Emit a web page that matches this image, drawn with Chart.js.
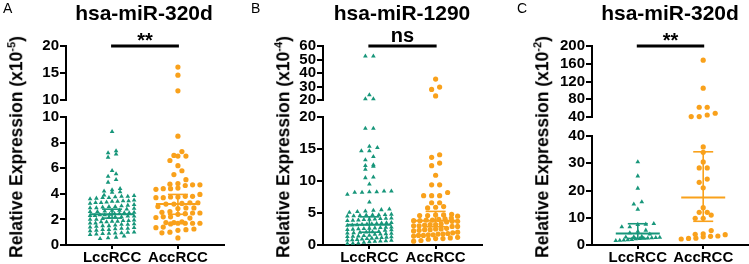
<!DOCTYPE html>
<html><head><meta charset="utf-8">
<script src="https://cdn.jsdelivr.net/npm/chart.js@4.4.1/dist/chart.umd.min.js"></script>
<style>
html,body{margin:0;padding:0;background:#fff;}
body{position:relative;width:749px;height:264px;overflow:hidden;font-family:"Liberation Sans",Arial,sans-serif;color:#000;}
canvas{position:absolute;}
.lbl{position:absolute;white-space:nowrap;line-height:1;transform:translate(-50%,-50%);}
.title{font-size:21px;font-weight:bold;}
.letter{position:absolute;font-size:14px;line-height:1;white-space:nowrap;}
.ytitle{font-size:17.5px;font-weight:bold;transform:translate(-50%,-50%) rotate(-90deg);}
.ytitle sup{font-size:11px;vertical-align:0.6em;line-height:0;}
</style></head><body>
<script>
// ---------- data ----------
const groups = ['LccRCC', 'AccRCC'];
const titles = ['hsa-miR-320d', 'hsa-miR-1290', 'hsa-miR-320d'];
const panelLetters = ['A', 'B', 'C'];
const exponents = ['-5', '-4', '-2'];
const sigLabels = ['**', 'ns', '**'];

const aTopTicks = [10, 15, 20];
const aBotTicks = [0, 2, 4, 6, 8, 10];
const bTopTicks = [20, 30, 40, 50, 60];
const bBotTicks = [0, 5, 10, 15, 20];
const cTopTicks = [40, 80, 120, 160, 200];
const cBotTicks = [0, 10, 20, 30, 40];

const aLcc = [8.85, 7.35, 7.2, 7.1, 6.85, 5.8, 5.55, 5.35, 5.1, 4.9, 4.4, 4.3, 4.2, 4.15, 4.1,
  3.9, 3.85, 3.8, 3.8, 3.75, 3.7, 3.7, 3.65, 3.6,
  3.5, 3.45, 3.45, 3.4, 3.4, 3.35, 3.3, 3.3, 3.25,
  3.15, 3.1, 3.05, 3.0, 3.0, 2.95, 2.9, 2.9, 2.85, 2.8,
  2.7, 2.7, 2.65, 2.6, 2.6, 2.55, 2.5, 2.5, 2.45, 2.45,
  2.4, 2.35, 2.35, 2.3, 2.3, 2.25, 2.25, 2.2, 2.2, 2.15,
  2.05, 2.0, 2.0, 1.95, 1.9, 1.9, 1.85, 1.85, 1.8, 1.8,
  1.7, 1.7, 1.65, 1.6, 1.6, 1.55, 1.5, 1.5, 1.45,
  1.4, 1.35, 1.3, 1.3, 1.25, 1.2, 1.2, 1.15, 1.1,
  1.0, 0.98, 0.95, 0.92, 0.9, 0.88, 0.85, 0.8,
  0.7, 0.6, 0.55, 0.5];
const aAcc = [16.1, 14.6, 11.7,
  8.5, 7.3, 7.0, 6.95, 6.95, 6.6, 6.2, 5.8, 5.5, 5.1,
  4.8, 4.75, 4.7, 4.7, 4.65, 4.45, 4.4, 4.4, 4.35,
  3.95, 3.8, 3.8, 3.75, 3.75, 3.7, 3.7,
  3.3, 3.3, 3.25, 3.2, 3.2, 3.0, 2.9, 2.9, 2.85,
  2.6, 2.55, 2.5, 2.5, 2.45, 2.4,
  2.2, 2.2, 2.15, 2.1,
  1.8, 1.75, 1.75, 1.7, 1.7, 1.7, 1.65, 1.7,
  1.4, 1.35, 1.25, 1.2, 1.15, 1.0, 0.95, 0.55];
const bLcc = [52.5, 52.5, 23.7, 20.8, 20.8,
  18.2, 18.2, 15.4, 15.2, 14.7, 14.7, 13.8, 13.3, 12.5, 12.4, 12.3, 11.8, 10.6, 10.5, 9.5,
  8.4, 8.4, 8.3, 8.3, 8.2, 8.2, 7.9, 6.7,
  5.6, 5.5, 5.4, 5.3, 5.2, 5.1,
  4.8, 4.75, 4.7, 4.7, 4.65, 4.6, 4.55, 4.5,
  4.2, 4.15, 4.1, 4.05, 4.0, 3.95, 3.9, 3.85, 3.8,
  3.5, 3.45, 3.4, 3.35, 3.3, 3.25, 3.2, 3.15, 3.1, 3.05,
  2.8, 2.75, 2.7, 2.65, 2.6, 2.55, 2.5, 2.45, 2.4, 2.35, 2.3,
  2.1, 2.05, 2.0, 1.95, 1.9, 1.85, 1.8, 1.75, 1.7, 1.65,
  1.5, 1.45, 1.4, 1.35, 1.3, 1.25, 1.2, 1.15, 1.1, 1.05, 1.0,
  0.9, 0.85, 0.8, 0.75, 0.7, 0.65, 0.6, 0.55, 0.5,
  0.4, 0.3, 0.25, 0.2];
const bAcc = [35.5, 29.6, 27.8, 23.0,
  14.1, 13.7, 12.8, 12.4, 10.9, 9.4, 9.4, 8.2, 7.7, 7.7, 7.7, 6.6, 6.6, 6.0, 5.9, 5.8,
  4.8, 4.7, 4.7, 4.6, 4.6, 4.5,
  4.2, 4.1, 4.0, 3.9, 3.9, 3.8, 3.8, 3.7, 3.7, 3.6,
  3.3, 3.2, 3.2, 3.1, 3.0, 3.0, 2.9, 2.9,
  2.6, 2.5, 2.5, 2.4, 2.4, 2.3, 2.2,
  2.0, 1.9, 1.8, 1.7, 1.7, 1.6, 1.6, 1.5, 1.5, 1.4,
  1.2, 1.1, 1.0, 1.0, 0.9,
  0.7, 0.6];
const cLcc = [30.5, 25.3, 20.8, 15.8, 15.0, 13.1, 7.8, 7.6, 7.5, 6.6, 6.6, 5.4, 5.0, 4.4, 4.0,
  3.1, 3.0, 2.9, 2.8, 2.7, 2.6, 2.5, 2.4, 2.3, 2.2, 2.0, 1.9, 1.8, 1.7, 1.6];
const cAcc = [168, 105, 62, 62, 48.5, 44.5, 41, 41,
  36, 34, 30.5, 28.3, 28.3, 24.2, 23, 21, 13.7, 12, 12, 11, 9.8, 9.8, 5.3,
  4.1, 3.9, 3.8, 3.3, 3.2, 3.0, 2.5, 2.4, 2.2];

// median and interquartile range [low, median, high]
const aLccStats = [2.1, 2.4, 2.8];
const aAccStats = [2.4, 3.2, 3.95];
const bLccStats = [2.0, 3.15, 4.4];
const bAccStats = [2.85, 3.8, 5.25];
const cLccStats = [2.4, 4.2, 7.8];
const cAccStats = [8.7, 17.4, 34.2];

// ---------- layout / style ----------
const panels = [
  {lcc: aLcc, acc: aAcc, stats: [aLccStats, aAccStats], topTicks: aTopTicks, botTicks: aBotTicks},
  {lcc: bLcc, acc: bAcc, stats: [bLccStats, bAccStats], topTicks: bTopTicks, botTicks: bBotTicks},
  {lcc: cLcc, acc: cAcc, stats: [cLccStats, cAccStats], topTicks: cTopTicks, botTicks: cBotTicks},
];
const geo = [
  {axisX: 66, right: 224, top: [46, 100], bot: [117, 245], titleX: 144, letterX: 3, yTitleX: 17, sigDy: 1},
  {axisX: 323, right: 482, top: [46, 100], bot: [117, 245], titleX: 402, letterX: 251, yTitleX: 284, sigDy: -4},
  {axisX: 592, right: 749, top: [46, 117], bot: [136, 245], titleX: 670, letterX: 517, yTitleX: 543, sigDy: 1},
];
const TEAL = '#17967a', ORANGE = '#f9a11b';
const styleSets = [
  {color: TEAL, pointStyle: 'triangle', radius: 2.7, spacing: 8, maxSpan: 44, rowH: 3.4},
  {color: ORANGE, pointStyle: 'circle', radius: 2.6, spacing: 8, maxSpan: 44, rowH: 4.6},
];
const FONT = '"Liberation Sans", Arial, sans-serif';
Chart.defaults.font.family = FONT;
Chart.defaults.color = '#000';

function addCanvas(left, top, w, h) {
  const c = document.createElement('canvas');
  c.width = w; c.height = h;
  c.style.left = left + 'px'; c.style.top = top + 'px';
  c.style.width = w + 'px'; c.style.height = h + 'px';
  document.body.appendChild(c);
  return c;
}
function addText(cls, html, x, y) {
  const d = document.createElement('div');
  d.className = cls; d.innerHTML = html;
  d.style.left = x + 'px'; d.style.top = y + 'px';
  document.body.appendChild(d);
}

const marksPlugin = {
  id: 'marks',
  afterDatasetsDraw(chart, args, opts) {
    const ctx = chart.ctx, xs = chart.scales.x, ys = chart.scales.y;
    const line = (a, b, c, d) => { ctx.beginPath(); ctx.moveTo(a, b); ctx.lineTo(c, d); ctx.stroke(); };
    ctx.save();
    if (opts.stats) opts.stats.forEach((s, gi) => {
      const cx = xs.getPixelForValue(gi);
      const [lo, med, hi] = s.map(v => ys.getPixelForValue(v));
      ctx.strokeStyle = styleSets[gi].color;
      ctx.lineWidth = 1.6;
      line(cx, lo, cx, hi); line(cx - 10, lo, cx + 10, lo); line(cx - 10, hi, cx + 10, hi);
      ctx.lineWidth = 2;
      line(cx - 22, med, cx + 22, med);
    });
    if (opts.sig) {
      const x0 = xs.getPixelForValue(0), x1 = xs.getPixelForValue(1), y = chart.chartArea.top;
      ctx.strokeStyle = '#000'; ctx.lineWidth = 3;
      line(x0 - 1, y, x1 + 1, y);
      ctx.fillStyle = '#000';
      ctx.font = 'bold 20px ' + FONT;
      ctx.textAlign = 'center'; ctx.textBaseline = 'alphabetic';
      ctx.fillText(opts.sig, (x0 + x1) / 2, y + opts.sigDy);
    }
    ctx.restore();
  }
};

function swarm(chart) {
  const xs = chart.scales.x, ys = chart.scales.y;
  const unit = xs.getPixelForValue(1) - xs.getPixelForValue(0);
  chart.data.datasets.forEach((ds, gi) => {
    const st = styleSets[gi];
    const pts = ds.data.map(p => ({p, py: ys.getPixelForValue(p.y)})).sort((a, b) => b.py - a.py);
    let row = [], start = 0;
    const flush = () => {
      const n = row.length;
      const sp = n > 1 ? Math.min(st.spacing, st.maxSpan / (n - 1)) : 0;
      row.forEach((q, i) => { q.p.x = gi + (i - (n - 1) / 2) * sp / unit; });
      row = [];
    };
    pts.forEach(q => {
      if (row.length && start - q.py >= st.rowH) flush();
      if (!row.length) start = q.py;
      row.push(q);
    });
    flush();
  });
  chart.update('none');
}

function makeSeg(pi, isTop) {
  const P = panels[pi], G = geo[pi];
  const yW = 45, padR = 4;
  const padTop = isTop ? 26 : 10, padBot = isTop ? 10 : 0, xH = isTop ? 0 : 22;
  const [y0, y1] = isTop ? G.top : G.bot;
  const left = G.axisX - yW, top = y0 - padTop;
  const w = G.right - left + padR, h = (y1 - y0) + padTop + padBot + xH;
  const ticks = isTop ? P.topTicks : P.botTicks;
  const brk = P.botTicks[P.botTicks.length - 1];
  const sel = v => isTop ? v > brk : v <= brk;
  const datasets = [P.lcc, P.acc].map((vals, gi) => ({
    label: groups[gi],
    data: vals.filter(sel).map(v => ({x: gi, y: v})),
    pointStyle: styleSets[gi].pointStyle,
    pointRadius: styleSets[gi].radius,
    pointHoverRadius: styleSets[gi].radius,
    backgroundColor: styleSets[gi].color,
    borderColor: styleSets[gi].color,
    borderWidth: 0,
    showLine: false,
    clip: false
  }));
  const chart = new Chart(addCanvas(left, top, w, h), {
    type: 'scatter',
    data: {datasets},
    options: {
      responsive: false, animation: false, devicePixelRatio: 1, events: [],
      layout: {padding: {top: padTop, bottom: padBot, left: 0, right: padR}},
      plugins: {
        legend: {display: false}, tooltip: {enabled: false},
        marks: {stats: isTop ? null : P.stats, sig: isTop ? sigLabels[pi] : null, sigDy: G.sigDy}
      },
      scales: {
        x: {
          type: 'linear', min: -0.7, max: 1.7, display: !isTop,
          afterBuildTicks: s => { s.ticks = groups.map((g, i) => ({value: i})); },
          afterFit: s => { s.height = xH; },
          ticks: {callback: v => groups[v], font: {size: 15, weight: 'bold'}, padding: 0, maxRotation: 0, autoSkip: false},
          grid: {display: true, drawOnChartArea: false, drawTicks: true, tickLength: 4, color: '#000', lineWidth: 2},
          border: {display: true, color: '#000', width: 2}
        },
        y: {
          type: 'linear', min: ticks[0], max: ticks[ticks.length - 1],
          afterBuildTicks: s => { s.ticks = ticks.map(v => ({value: v})); },
          afterFit: s => { s.width = yW; },
          ticks: {font: {size: 15, weight: 'bold'}, padding: 1, autoSkip: false},
          grid: {display: true, drawOnChartArea: false, drawTicks: true, tickLength: 6, color: '#000', lineWidth: 2},
          border: {display: true, color: '#000', width: 2}
        }
      }
    },
    plugins: [marksPlugin]
  });
  swarm(chart);
}

panels.forEach((P, pi) => {
  const G = geo[pi];
  makeSeg(pi, true);
  makeSeg(pi, false);
  addText('lbl title', titles[pi], G.titleX, 11.5);
  const l = document.createElement('div');
  l.className = 'letter'; l.textContent = panelLetters[pi];
  l.style.left = G.letterX + 'px'; l.style.top = '1px';
  document.body.appendChild(l);
  addText('lbl ytitle', 'Relative Expression (x10<sup>' + exponents[pi] + '</sup>)', G.yTitleX, 147);
});
</script>
</body></html>
